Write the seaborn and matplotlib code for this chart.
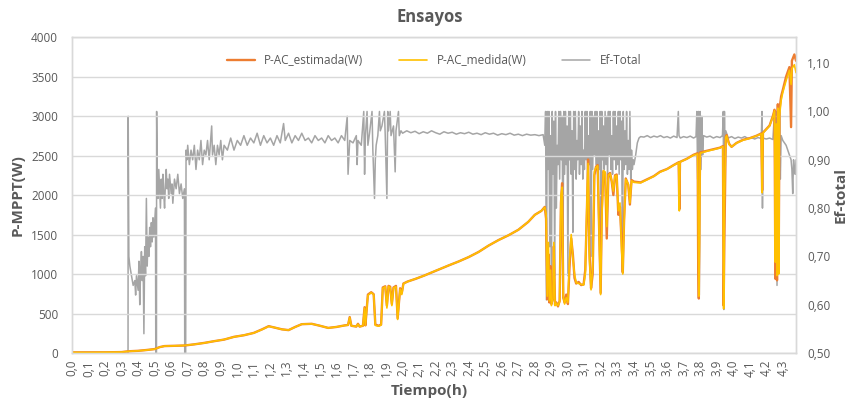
import numpy as np
import pandas as pd
import seaborn as sns
import matplotlib.pyplot as plt

sns.set_style("white")
plt.rcParams['font.family'] = ['Open Sans', 'DejaVu Sans']

# Potencias (W) frente al tiempo (h)
tiempo_p = [
    0.00, 0.10, 0.20, 0.30, 0.34, 0.40, 0.45, 0.50, 0.53, 0.56,
    0.62, 0.68, 0.74, 0.80, 0.86, 0.92, 0.98, 1.04, 1.10, 1.15,
    1.19, 1.23, 1.27, 1.31, 1.35, 1.39, 1.45, 1.50, 1.55, 1.60,
    1.65, 1.67, 1.68, 1.69, 1.72, 1.73, 1.74, 1.76, 1.77, 1.775,
    1.79, 1.81, 1.825, 1.835, 1.855, 1.87, 1.88, 1.895, 1.905, 1.915,
    1.925, 1.935, 1.945, 1.96, 1.97, 1.985, 1.995, 2.005, 2.03, 2.08,
    2.13, 2.17, 2.22, 2.28, 2.34, 2.40, 2.46, 2.52, 2.58, 2.64,
    2.70, 2.76, 2.80, 2.84, 2.86, 2.868, 2.875, 2.882, 2.888, 2.895,
    2.90, 2.91, 2.915, 2.922, 2.93, 2.94, 2.95, 2.958, 2.965, 2.972,
    2.98, 2.99, 3.00, 3.01, 3.02, 3.03, 3.04, 3.05, 3.065, 3.08,
    3.095, 3.105, 3.115, 3.122, 3.13, 3.14, 3.15, 3.16, 3.17, 3.18,
    3.19, 3.198, 3.205, 3.215, 3.225, 3.235, 3.245, 3.255, 3.265, 3.275,
    3.285, 3.295, 3.305, 3.315, 3.325, 3.332, 3.34, 3.35, 3.365, 3.375,
    3.385, 3.40, 3.44, 3.48, 3.52, 3.557, 3.60, 3.64, 3.67, 3.674,
    3.678, 3.72, 3.76, 3.785, 3.788, 3.792, 3.796, 3.80, 3.85, 3.90,
    3.92, 3.938, 3.942, 3.947, 3.955, 3.96, 3.975, 3.99, 4.02, 4.06,
    4.10, 4.14, 4.17, 4.175, 4.18, 4.22, 4.24, 4.25, 4.255, 4.26,
    4.265, 4.27, 4.275, 4.28, 4.29, 4.30, 4.32, 4.34, 4.35, 4.355,
    4.37, 4.38,
]
p_estimada = [
    8, 8, 9, 12, 22, 28, 38, 50, 75, 88,
    92, 95, 110, 128, 150, 170, 205, 225, 255, 300,
    340, 320, 300, 290, 330, 365, 370, 345, 318, 330,
    350, 355, 455, 345, 335, 370, 335, 345, 580, 350,
    740, 770, 745, 360, 345, 360, 830, 845, 600, 850,
    840, 620, 830, 850, 440, 820, 760, 880, 905, 940,
    980, 1015, 1060, 1110, 1160, 1215, 1280, 1360, 1430, 1490,
    1560, 1660, 1750, 1800, 1850, 1700, 680, 1250, 640, 1100,
    620, 700, 1350, 610, 640, 590, 660, 1900, 2150, 700,
    640, 740, 620, 1100, 1450, 1250, 950, 880, 900, 860,
    870, 1050, 1800, 2450, 1300, 820, 1000, 2250, 2360, 2380,
    1500, 760, 1800, 2300, 2280, 1450, 2260, 2280, 2170, 2000,
    2250, 2260, 1750, 1850, 1400, 1020, 1700, 2210, 2130, 1880,
    2190, 2170, 2160, 2200, 2240, 2295, 2330, 2380, 2415, 1820,
    2420, 2460, 2510, 2530, 1200, 690, 1900, 2540, 2565, 2590,
    2600, 2620, 600, 1500, 2740, 2760, 2650, 2610, 2660, 2700,
    2720, 2750, 2780, 2060, 2790, 2880, 3000, 3080, 940, 1700,
    920, 3150, 1100, 3080, 3250, 3330, 3500, 3620, 2860, 3700,
    3780, 3700,
]
p_medida = [
    8, 7, 9, 12, 21, 28, 37, 49, 74, 88,
    91, 96, 110, 127, 150, 171, 204, 226, 254, 298,
    338, 321, 299, 291, 329, 366, 369, 346, 317, 331,
    349, 354, 450, 344, 336, 365, 334, 346, 570, 352,
    730, 765, 740, 350, 340, 355, 820, 840, 570, 845,
    830, 600, 825, 840, 425, 810, 740, 878, 904, 941,
    979, 1016, 1059, 1111, 1159, 1216, 1279, 1361, 1429, 1491,
    1559, 1661, 1749, 1801, 1845, 1760, 720, 1400, 660, 1050,
    600, 690, 1400, 600, 630, 600, 650, 2000, 2100, 720,
    620, 700, 640, 1200, 1500, 1200, 1000, 890, 880, 870,
    860, 1000, 1900, 2400, 1200, 800, 1070, 2300, 2350, 2370,
    1400, 740, 1700, 2310, 2290, 1600, 2250, 2270, 2180, 2050,
    2240, 2250, 1800, 1900, 1300, 1000, 1650, 2200, 2140, 1900,
    2180, 2160, 2155, 2195, 2238, 2290, 2328, 2378, 2412, 1800,
    2418, 2458, 2505, 2520, 1700, 720, 1400, 2530, 2560, 2585,
    2598, 2615, 560, 1900, 2730, 2750, 2640, 2612, 2658, 2695,
    2718, 2748, 2775, 2030, 2785, 2875, 2990, 3070, 1150, 2900,
    980, 3100, 1000, 3000, 3200, 3300, 3450, 3580, 3400, 3600,
    3650, 3550,
]

# Eficiencia total (eje secundario)
tiempo_ef = [
    0.00, 0.338, 0.34, 0.344, 0.35, 0.36, 0.37, 0.38, 0.385, 0.39,
    0.40, 0.405, 0.41, 0.415, 0.42, 0.425, 0.43, 0.435, 0.44, 0.445,
    0.45, 0.455, 0.46, 0.465, 0.47, 0.475, 0.48, 0.485, 0.49, 0.495,
    0.50, 0.505, 0.51, 0.512, 0.515, 0.52, 0.525, 0.53, 0.535, 0.54,
    0.545, 0.55, 0.555, 0.56, 0.565, 0.57, 0.575, 0.58, 0.585, 0.59,
    0.60, 0.605, 0.61, 0.62, 0.63, 0.64, 0.65, 0.66, 0.67, 0.68,
    0.685, 0.69, 0.695, 0.70, 0.71, 0.72, 0.73, 0.74, 0.75, 0.76,
    0.77, 0.78, 0.79, 0.80, 0.81, 0.82, 0.83, 0.845, 0.85, 0.86,
    0.87, 0.88, 0.89, 0.90, 0.91, 0.92, 0.94, 0.96, 0.98, 1.00,
    1.02, 1.04, 1.06, 1.08, 1.10, 1.12, 1.14, 1.16, 1.18, 1.20,
    1.22, 1.24, 1.26, 1.28, 1.29, 1.31, 1.33, 1.35, 1.37, 1.39,
    1.41, 1.43, 1.45, 1.47, 1.49, 1.51, 1.53, 1.55, 1.57, 1.59,
    1.61, 1.63, 1.65, 1.665, 1.67, 1.68, 1.70, 1.72, 1.725, 1.73,
    1.75, 1.765, 1.77, 1.775, 1.785, 1.79, 1.80, 1.815, 1.82, 1.83,
    1.835, 1.84, 1.85, 1.86, 1.865, 1.875, 1.89, 1.895, 1.905, 1.91,
    1.915, 1.925, 1.93, 1.945, 1.955, 1.96, 1.975, 1.98, 1.99, 2.00,
    2.025, 2.05, 2.075, 2.10, 2.125, 2.15, 2.175, 2.20, 2.225, 2.25,
    2.275, 2.30, 2.325, 2.35, 2.375, 2.40, 2.425, 2.45, 2.475, 2.50,
    2.525, 2.55, 2.575, 2.60, 2.625, 2.65, 2.675, 2.70, 2.725, 2.75,
    2.775, 2.80, 2.825, 2.85, 2.86, 2.865, 2.87, 2.875, 2.88, 2.885,
    2.89, 2.895, 2.90, 2.905, 2.91, 2.915, 2.92, 2.925, 2.93, 2.935,
    2.94, 2.945, 2.95, 2.955, 2.96, 2.965, 2.97, 2.975, 2.98, 2.985,
    2.99, 2.995, 3.00, 3.005, 3.01, 3.015, 3.02, 3.025, 3.03, 3.035,
    3.04, 3.045, 3.05, 3.055, 3.06, 3.065, 3.07, 3.075, 3.08, 3.085,
    3.09, 3.095, 3.10, 3.105, 3.11, 3.115, 3.12, 3.125, 3.13, 3.135,
    3.14, 3.145, 3.15, 3.155, 3.16, 3.165, 3.17, 3.175, 3.18, 3.185,
    3.19, 3.195, 3.20, 3.205, 3.21, 3.215, 3.22, 3.225, 3.23, 3.235,
    3.24, 3.245, 3.25, 3.255, 3.26, 3.265, 3.27, 3.275, 3.28, 3.285,
    3.29, 3.295, 3.30, 3.305, 3.31, 3.315, 3.32, 3.325, 3.33, 3.335,
    3.34, 3.345, 3.35, 3.355, 3.36, 3.365, 3.37, 3.375, 3.38, 3.385,
    3.39, 3.395, 3.40, 3.41, 3.42, 3.43, 3.44, 3.46, 3.48, 3.50,
    3.52, 3.54, 3.56, 3.58, 3.60, 3.62, 3.64, 3.66, 3.668, 3.672,
    3.68, 3.70, 3.72, 3.74, 3.76, 3.775, 3.78, 3.785, 3.79, 3.795,
    3.80, 3.805, 3.81, 3.815, 3.82, 3.84, 3.86, 3.88, 3.90, 3.92,
    3.935, 3.94, 3.943, 3.947, 3.95, 3.955, 3.97, 3.99, 4.01, 4.03,
    4.05, 4.07, 4.09, 4.11, 4.13, 4.15, 4.17, 4.174, 4.177, 4.18,
    4.20, 4.22, 4.24, 4.25, 4.255, 4.26, 4.265, 4.27, 4.275, 4.28,
    4.285, 4.29, 4.30, 4.31, 4.32, 4.33, 4.34, 4.35, 4.355, 4.36,
    4.365, 4.37, 4.375, 4.38,
]
ef_total = [
    0.0, 0.0, 0.99, 0.70, 0.68, 0.66, 0.64, 0.65, 0.62, 0.66,
    0.63, 0.69, 0.60, 0.67, 0.71, 0.65, 0.70, 0.54, 0.72, 0.66,
    0.82, 0.68, 0.74, 0.70, 0.76, 0.72, 0.77, 0.73, 0.78, 0.74,
    0.77, 0.80, 0.0, 1.0, 0.87, 0.82, 0.88, 0.84, 0.80, 0.86,
    0.82, 0.87, 0.83, 0.80, 0.85, 0.88, 0.84, 0.86, 0.82, 0.87,
    0.83, 0.85, 0.81, 0.86, 0.84, 0.87, 0.83, 0.85, 0.82, 0.84,
    0.0, 0.92, 0.90, 0.93, 0.89, 0.92, 0.90, 0.93, 0.88, 0.92,
    0.90, 0.94, 0.89, 0.92, 0.91, 0.94, 0.90, 0.97, 0.91, 0.93,
    0.89, 0.93, 0.91, 0.94, 0.90, 0.93, 0.92, 0.945, 0.92, 0.94,
    0.93, 0.95, 0.93, 0.945, 0.935, 0.955, 0.93, 0.95, 0.935, 0.945,
    0.93, 0.95, 0.935, 0.975, 0.94, 0.955, 0.935, 0.95, 0.94, 0.955,
    0.94, 0.945, 0.935, 0.95, 0.94, 0.945, 0.935, 0.95, 0.94, 0.945,
    0.935, 0.95, 0.94, 0.99, 0.87, 0.94, 0.935, 0.95, 0.89, 0.94,
    0.93, 1.0, 0.87, 0.95, 1.0, 0.93, 0.955, 1.0, 0.92, 0.82,
    0.90, 0.93, 0.95, 1.0, 0.96, 0.97, 1.0, 0.95, 0.82, 1.0,
    0.96, 1.0, 0.95, 0.97, 0.875, 0.96, 1.0, 0.95, 0.96, 0.955,
    0.96, 0.956, 0.959, 0.954, 0.958, 0.955, 0.96, 0.956, 0.953, 0.958,
    0.955, 0.957, 0.953, 0.956, 0.954, 0.957, 0.953, 0.955, 0.952, 0.956,
    0.953, 0.955, 0.951, 0.954, 0.952, 0.955, 0.951, 0.953, 0.95, 0.953,
    0.951, 0.952, 0.95, 0.952, 0.93, 1.0, 0.61, 1.0, 0.88, 1.0,
    0.72, 0.95, 0.62, 1.0, 0.87, 0.98, 0.66, 1.0, 0.80, 0.93,
    0.89, 1.0, 0.86, 1.0, 0.90, 0.99, 0.68, 1.0, 0.87, 1.0,
    0.89, 0.97, 0.66, 1.0, 0.90, 1.0, 0.87, 0.96, 0.75, 1.0,
    0.88, 1.0, 0.86, 0.94, 0.90, 1.0, 0.87, 0.97, 0.89, 1.0,
    0.86, 0.92, 0.88, 1.0, 0.90, 1.0, 0.85, 0.95, 0.89, 1.0,
    0.70, 1.0, 0.88, 0.99, 0.91, 1.0, 0.89, 1.0, 0.87, 0.96,
    0.88, 1.0, 0.68, 1.0, 0.90, 0.97, 0.88, 1.0, 0.89, 0.99,
    0.86, 1.0, 0.91, 1.0, 0.88, 0.95, 0.87, 1.0, 0.90, 1.0,
    0.88, 0.97, 0.89, 1.0, 0.87, 1.0, 0.90, 0.98, 0.67, 1.0,
    0.88, 0.96, 0.89, 1.0, 0.87, 0.94, 0.88, 1.0, 0.86, 0.92,
    0.88, 0.90, 0.89, 0.91, 0.935, 0.945, 0.948, 0.947, 0.95, 0.946,
    0.949, 0.947, 0.95, 0.946, 0.948, 0.945, 0.949, 0.946, 1.0, 0.95,
    0.945, 0.948, 0.946, 0.949, 0.945, 0.948, 1.0, 0.86, 1.0, 0.62,
    1.0, 0.88, 0.99, 0.91, 0.95, 0.947, 0.949, 0.945, 0.948, 0.946,
    0.95, 1.0, 0.59, 1.0, 0.88, 0.96, 0.945, 0.948, 0.944, 0.947,
    0.945, 0.948, 0.944, 0.946, 0.943, 0.946, 0.944, 1.0, 0.80, 0.945,
    0.943, 0.945, 0.942, 1.0, 0.66, 1.0, 0.64, 1.0, 0.75, 1.0,
    0.86, 0.95, 0.94, 0.935, 0.93, 0.92, 0.91, 0.90, 0.88, 0.83,
    0.90, 0.88, 0.87, 0.90,
]

etiquetas_x = [
    '0,0', '0,1', '0,2', '0,3', '0,4', '0,5', '0,6', '0,7', '0,8', '0,9',
    '1,0', '1,1', '1,2', '1,3', '1,4', '1,5', '1,6', '1,7', '1,8', '1,9',
    '2,0', '2,1', '2,2', '2,3', '2,4', '2,5', '2,6', '2,7', '2,8', '2,9',
    '3,0', '3,1', '3,2', '3,3', '3,4', '3,5', '3,6', '3,7', '3,8', '3,9',
    '4,0', '4,1', '4,2', '4,3',
]
ticks_ef = [0.5, 0.6, 0.7, 0.8, 0.9, 1.0, 1.1]
etiquetas_ef = ['0,50', '0,60', '0,70', '0,80', '0,90', '1,00', '1,10']

gris_texto = '#595959'
c_est, c_med, c_ef = '#ED7D31', '#FFC000', '#A5A5A5'

fig = plt.figure(figsize=(8.51, 4.03), dpi=100)
ax = fig.add_axes([0.0846, 0.124, 0.8508, 0.784])
ax2 = ax.twinx()

sns.lineplot(x=tiempo_ef, y=ef_total, ax=ax2, color=c_ef, linewidth=1.1,
             estimator=None, sort=False, label='Ef-Total', legend=False)
sns.lineplot(x=tiempo_p, y=p_estimada, ax=ax, color=c_est, linewidth=1.7,
             estimator=None, sort=False, label='P-AC_estimada(W)', legend=False)
sns.lineplot(x=tiempo_p, y=p_medida, ax=ax, color=c_med, linewidth=1.2,
             estimator=None, sort=False, label='P-AC_medida(W)', legend=False)

# serie principal encima del eje secundario
ax.set_zorder(ax2.get_zorder() + 1)
ax.patch.set_visible(False)

ax.set_xlim(0, 4.38)
ax.set_ylim(0, 4000)
ax2.set_ylim(0.5, 1.154)

ax.set_yticks(range(0, 4001, 500))
ax.set_xticks([i / 10 for i in range(len(etiquetas_x))])
ax.set_xticklabels(etiquetas_x, rotation=90)
ax2.set_yticks(ticks_ef)
ax2.set_yticklabels(etiquetas_ef)

ax.grid(axis='y', color='#D9D9D9', linewidth=1.0)
ax.grid(axis='x', visible=False)
ax.set_axisbelow(True)
for a in (ax, ax2):
    for s in a.spines.values():
        s.set_color('#D9D9D9')
        s.set_linewidth(1.0)

ax.tick_params(axis='y', length=0, pad=10, labelsize=8.5, labelcolor=gris_texto)
ax.tick_params(axis='x', length=0, pad=5, labelsize=8.5, labelcolor=gris_texto)
ax2.tick_params(axis='y', length=0, pad=8, labelsize=8.5, labelcolor=gris_texto)
ax.set_xlabel('')
ax.set_ylabel('')
ax2.set_ylabel('')

h1, l1 = ax.get_legend_handles_labels()
h2, l2 = ax2.get_legend_handles_labels()
ax.legend(h1 + h2, l1 + l2, loc='center', bbox_to_anchor=(0.5, 0.927), ncol=3,
          frameon=False, fontsize=8.5, handlelength=2.4, columnspacing=3.0,
          labelcolor=gris_texto)

fig.text(0.505, 0.958, 'Ensayos', ha='center', va='center', fontsize=12,
         fontweight='bold', color=gris_texto)
fig.text(0.505, 0.03, 'Tiempo(h)', ha='center', va='center', fontsize=11,
         fontweight='bold', color=gris_texto)
fig.text(0.021, 0.516, 'P-MPPT(W)', ha='center', va='center', rotation=90,
         fontsize=11, fontweight='bold', color=gris_texto)
fig.text(0.988, 0.516, 'Ef-total', ha='center', va='center', rotation=90,
         fontsize=11, fontweight='bold', color=gris_texto)

fig.savefig('out.png', dpi=100)
